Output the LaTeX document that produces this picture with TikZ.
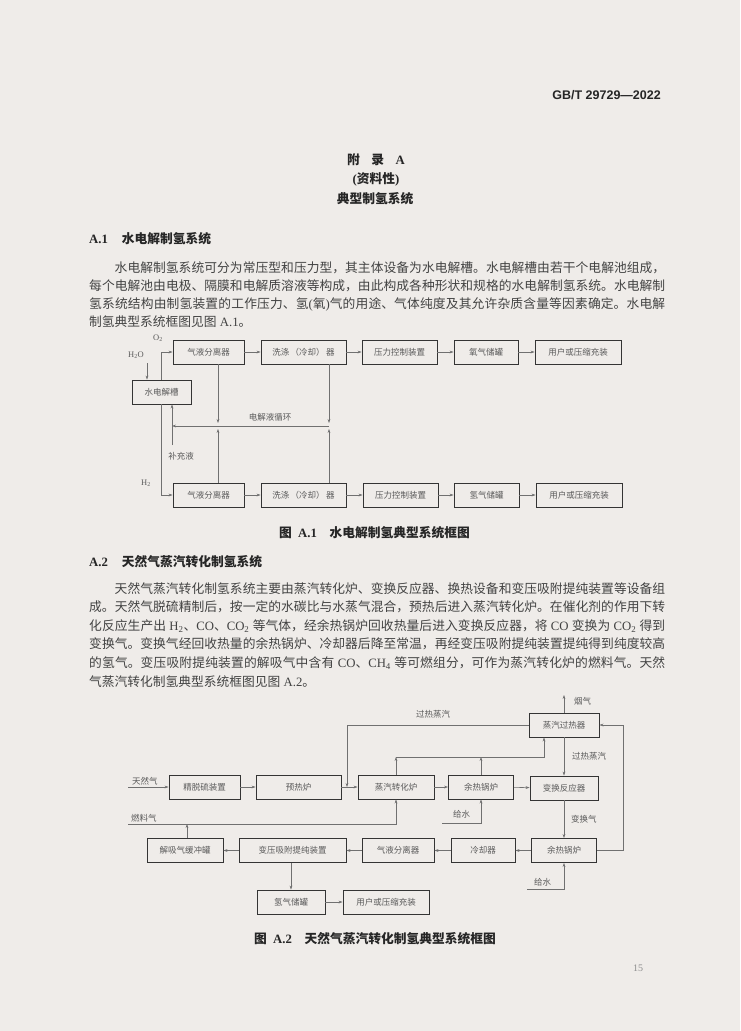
\documentclass[tikz,border=0pt]{standalone}
\usepackage{fontspec}
\setmainfont{Noto Sans CJK SC}
\newfontfamily\lat{Liberation Serif}
\newfontfamily\latsans{Liberation Sans}
\usetikzlibrary{arrows.meta,positioning}
\XeTeXlinebreaklocale "zh"
\XeTeXlinebreakskip=0pt plus 1pt
\definecolor{paper}{RGB}{239,236,233}
\definecolor{ink}{RGB}{66,66,66}
\definecolor{inkdark}{RGB}{38,38,38}
\definecolor{boxline}{RGB}{52,52,52}
\definecolor{wirecol}{RGB}{112,112,112}
\definecolor{boxtext}{RGB}{90,90,90}
\begin{document}
\begin{tikzpicture}[
		x=1pt, y=-1pt,
		>={Stealth[length=4pt,width=2.8pt]},
		box/.style={draw=boxline, line width=0.9pt, minimum height=24pt, inner sep=0pt, text=boxtext, font=\fontsize{8.5}{10}\selectfont},
		wire/.style={draw=wirecol, line width=0.55pt},
		tag/.style={text=boxtext, inner sep=0pt, font=\fontsize{8.5}{10}\selectfont},
		body/.style={text=ink, inner sep=0pt, text width=576pt, align=justify, font=\fontsize{12.75}{18}\selectfont},
		head/.style={text=inkdark, inner sep=0pt, font=\fontsize{12.75}{15}\selectfont\bfseries}
	]
	\fill[paper] (0,0) rectangle (740,1031);

	\node[inner sep=0pt, text=inkdark, font=\latsans\bfseries\fontsize{12.5}{14}\selectfont, anchor=east] (code) at (661,95) {GB/T 29729—2022};
	\node[head] (annex) at (376,160) {附\hspace{0.9em}录\hspace{0.9em}{\lat A}};
	\node[head] (kind) at (376,179) {{\lat(}资料性{\lat)}};
	\node[head] (title) at (375,199) {典型制氢系统};

	\node[head, anchor=west] (secA) at (89,239) {{\lat A.1}\hspace{1.1em}水电解制氢系统};
	\node[body, anchor=base west] (paraA) at (89,272) {\hspace*{2em}水电解制氢系统可分为常压型和压力型，其主体设备为水电解槽。水电解槽由若干个电解池组成，\linebreak%
每个电解池由电极、隔膜和电解质溶液等构成，由此构成各种形状和规格的水电解制氢系统。水电解制\linebreak%
氢系统结构由制氢装置的工作压力、氢{\lat(}氧{\lat)}气的用途、气体纯度及其允许杂质含量等因素确定。水电解\linebreak%
制氢典型系统框图见图{\lat\ A.1}。};

	\node[box, minimum width=59pt] (cell) at (161.5,392) {水电解槽};
	\node[box, minimum width=71pt] (o1) at (208.5,352) {气液分离器};
	\node[box, minimum width=85pt] (o2) at (303.5,352) {洗涤\,（冷却）\,器};
	\node[box, minimum width=75pt] (o3) at (399.5,352) {压力控制装置};
	\node[box, minimum width=64pt] (o4) at (486,352) {氧气储罐};
	\node[box, minimum width=86pt] (o5) at (578,352) {用户或压缩充装};
	\node[box, minimum width=71pt] (h1) at (208.5,495) {气液分离器};
	\node[box, minimum width=85pt] (h2) at (303.5,495) {洗涤\,（冷却）\,器};
	\node[box, minimum width=75pt] (h3) at (400.5,495) {压力控制装置};
	\node[box, minimum width=65pt] (h4) at (486.5,495) {氢气储罐};
	\node[box, minimum width=86pt] (h5) at (579,495) {用户或压缩充装};

	\node[tag] (otwo) at (158,338) {\lat O\textsubscript{2}};
	\node[tag] (water) at (136,355) {\lat H\textsubscript{2}O};
	\node[tag] (htwo) at (146,483) {\lat H\textsubscript{2}};
	\node[tag] (loopname) at (270,417) {电解液循环};
	\node[tag] (fillname) at (181,456) {补充液};

	\coordinate (waterin) at (147,363);
	\coordinate (sepAt) at (218,423);
	\coordinate (sepAb) at (218,429);
	\coordinate (sepBt) at (329,423);
	\coordinate (sepBb) at (329,429);
	\coordinate (loopR) at (329,426);
	\coordinate (fillin) at (172,445);

	\draw[wire,->] (waterin) -- (waterin |- cell.north);
	\draw[wire,->] (cell.north) |- (o1.west);
	\draw[wire,->] (cell.south) |- (h1.west);
	\foreach \a/\b in {o1/o2,o2/o3,o3/o4,o4/o5,h1/h2,h2/h3,h3/h4,h4/h5}
		\draw[wire,->] (\a) -- (\b);
	\draw[wire,->] (o1.south -| sepAt) -- (sepAt);
	\draw[wire,->] (h1.north -| sepAb) -- (sepAb);
	\draw[wire,->] (o2.south -| sepBt) -- (sepBt);
	\draw[wire,->] (h2.north -| sepBb) -- (sepBb);
	\draw[wire,->] (loopR) -- (fillin |- loopR);
	\draw[wire,->] (fillin) -- (fillin |- cell.south);

	\node[head] (capA) at (374.5,533) {图\hspace{0.5em}{\lat A.1}\hspace{1em}水电解制氢典型系统框图};

	\node[head, anchor=west] (secB) at (89,562) {{\lat A.2}\hspace{1.1em}天然气蒸汽转化制氢系统};
	\node[body, anchor=base west, font=\fontsize{12.75}{18.6}\selectfont] (paraB) at (89,593) {\hspace*{2em}天然气蒸汽转化制氢系统主要由蒸汽转化炉、变换反应器、换热设备和变压吸附提纯装置等设备组\linebreak%
成。天然气脱硫精制后，按一定的水碳比与水蒸气混合，预热后进入蒸汽转化炉。在催化剂的作用下转\linebreak%
化反应生产出{\lat\ H\textsubscript{2}}、{\lat CO}、{\lat CO\textsubscript{2}\ }等气体，经余热锅炉回收热量后进入变换反应器，将{\lat\ CO\ }变换为{\lat\ CO\textsubscript{2}\ }得到\linebreak%
变换气。变换气经回收热量的余热锅炉、冷却器后降至常温，再经变压吸附提纯装置提纯得到纯度较高\linebreak%
的氢气。变压吸附提纯装置的解吸气中含有{\lat\ CO}、{\lat CH\textsubscript{4}\ }等可燃组分，可作为蒸汽转化炉的燃料气。天然\linebreak%
气蒸汽转化制氢典型系统框图见图{\lat\ A.2}。};

	\node[box, minimum width=70pt] (sh) at (564,725) {蒸汽过热器};
	\node[box, minimum width=71pt] (ds) at (204.5,787) {精脱硫装置};
	\node[box, minimum width=85pt] (ph) at (298.5,787) {预热炉};
	\node[box, minimum width=76pt] (rf) at (396,787) {蒸汽转化炉};
	\node[box, minimum width=65pt] (wbA) at (481,787) {余热锅炉};
	\node[box, minimum width=68pt] (sr) at (564,788) {变换反应器};
	\node[box, minimum width=76pt] (bt) at (185,850.5) {解吸气缓冲罐};
	\node[box, minimum width=107pt] (psa) at (292.5,850.5) {变压吸附提纯装置};
	\node[box, minimum width=72pt] (gls) at (398,850.5) {气液分离器};
	\node[box, minimum width=64pt] (cl) at (483,850.5) {冷却器};
	\node[box, minimum width=65pt] (wbB) at (564,850.5) {余热锅炉};
	\node[box, minimum width=68pt] (ht) at (291,902) {氢气储罐};
	\node[box, minimum width=86pt] (us) at (386,902) {用户或压缩充装};

	\node[tag, anchor=west] (ngname) at (132,781) {天然气};
	\node[tag, anchor=west] (fuelname) at (131,818) {燃料气};
	\node[tag] (steamA) at (433,714) {过热蒸汽};
	\node[tag, anchor=west] (steamB) at (572,756) {过热蒸汽};
	\node[tag, anchor=west] (fluename) at (574,701) {烟气};
	\node[tag, anchor=west] (shiftname) at (571,819) {变换气};
	\node[tag, anchor=west] (fwAname) at (453,814) {给水};
	\node[tag, anchor=west] (fwBname) at (534,882) {给水};

	\coordinate (ngin) at (128,787);
	\coordinate (fuelin) at (128,824);
	\coordinate (btup) at (187,824);
	\coordinate (stin) at (347,787);
	\coordinate (rise) at (396,757);
	\coordinate (shin) at (544,757);
	\coordinate (flue) at (564,695);
	\coordinate (loopB) at (623,725);
	\coordinate (fwA) at (442,823);
	\coordinate (fwB) at (527,889);

	\draw[wire,->] (ngin) -- (ds.west);
	\foreach \a/\b in {ds/ph,ph/rf,rf/wbA,wbA/sr,wbB/cl,cl/gls,gls/psa,psa/bt,ht/us}
		\draw[wire,->] (\a) -- (\b);
	\draw[wire,->] (fuelin) -| (rf.south);
	\draw[wire,->] (bt.north -| btup) -- (btup);
	\draw[wire,->] (sh.west) -| (stin);
	\draw[wire,->] (rf.north) -- (rise);
	\draw[wire,->] (rise) -| (sh.south -| shin);
	\draw[wire,->] (wbA.north) -- (wbA.north |- rise);
	\draw[wire,->] (sh.south) -- (sr.north);
	\draw[wire,->] (sh.north) -- (flue);
	\draw[wire,->] (wbB.east) -| (loopB) -- (sh.east);
	\draw[wire,->] (sr.south) -- (wbB.north);
	\draw[wire,->] (fwA) -| (wbA.south);
	\draw[wire,->] (fwB) -| (wbB.south);
	\draw[wire,->] (psa.south -| ht.north) -- (ht.north);

	\node[head] (capB) at (375,939) {图\hspace{0.5em}{\lat A.2}\hspace{1em}天然气蒸汽转化制氢典型系统框图};
	\node[inner sep=0pt, text=ink!60, font=\lat\fontsize{10}{12}\selectfont] (page) at (638,968) {15};
\end{tikzpicture}
\end{document}
